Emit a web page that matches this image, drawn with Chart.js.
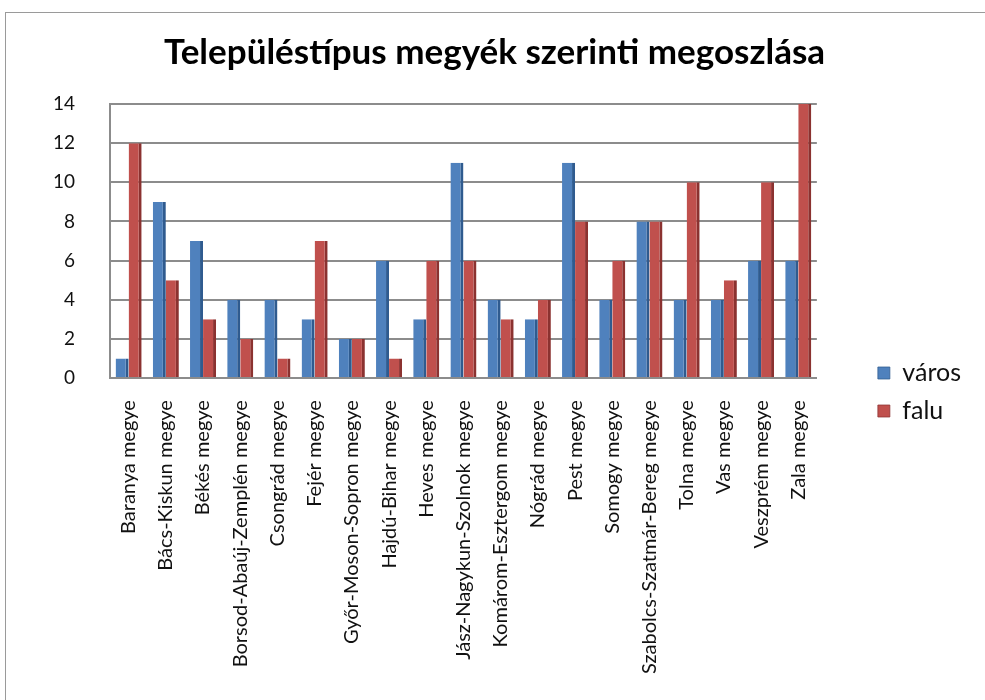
<!DOCTYPE html>
<html lang="hu">
<head>
    <meta charset="UTF-8">
    <title>Településtípus megyék szerinti megoszlása</title>
    <script src="https://cdn.jsdelivr.net/npm/chart.js"></script>
    <style>
        body {
            margin: 0;
            background: #fff;
        }
        .frame {
            position: absolute;
            left: 5px;
            top: 12px;
            width: 1000px;
            height: 720px;
            border-left: 1px solid #9a9a9a;
            border-top: 1px solid #9a9a9a;
        }
        .chart-box {
            position: absolute;
            left: 0;
            top: 0;
            width: 985px;
            height: 700px;
        }
    </style>
</head>
<body>
    <div class="frame"></div>
    <div class="chart-box">
        <canvas id="barChart" width="985" height="700"></canvas>
    </div>

    <script>
        // data
        var megyek = ['Baranya megye', 'Bács-Kiskun megye', 'Békés megye', 'Borsod-Abaúj-Zemplén megye',
            'Csongrád megye', 'Fejér megye', 'Győr-Moson-Sopron megye', 'Hajdú-Bihar megye', 'Heves megye',
            'Jász-Nagykun-Szolnok megye', 'Komárom-Esztergom megye', 'Nógrád megye', 'Pest megye',
            'Somogy megye', 'Szabolcs-Szatmár-Bereg megye', 'Tolna megye', 'Vas megye', 'Veszprém megye', 'Zala megye'];
        var varos = [1, 9, 7, 4, 4, 3, 2, 6, 3, 11, 4, 3, 11, 4, 8, 4, 4, 6, 6];
        var falu = [12, 5, 3, 2, 1, 7, 2, 1, 6, 6, 3, 4, 8, 6, 8, 10, 5, 10, 14];
        var yTicks = [0, 2, 4, 6, 8, 10, 12, 14];

        var gridColor = '#8c8c8c';

        // push the legend away from the plot and a bit lower
        var legendGap = 48;
        var legendDrop = 34;
        var legendShift = {
            id: 'legendShift',
            beforeInit: function (chart) {
                var fit = chart.legend.fit;
                chart.legend.fit = function () {
                    fit.bind(chart.legend)();
                    this.width += legendGap;
                };
            },
            afterLayout: function (chart) {
                chart.legend.left += legendGap;
                chart.legend.top += legendDrop;
                chart.legend.bottom += legendDrop;
            }
        };

        var barChart = new Chart(document.getElementById('barChart'), {
            type: 'bar',
            data: {
                labels: megyek,
                datasets: [{
                    label: 'város',
                    data: varos,
                    backgroundColor: '#4f81bd',
                    borderColor: '#2f5b8f',
                    borderWidth: { top: 0, left: 0, bottom: 0, right: 3 },
                    borderSkipped: false
                }, {
                    label: 'falu',
                    data: falu,
                    backgroundColor: '#c0504d',
                    borderColor: '#8b3230',
                    borderWidth: { top: 0, left: 0, bottom: 0, right: 3 },
                    borderSkipped: false
                }]
            },
            options: {
                responsive: false,
                animation: false,
                categoryPercentage: 0.7,
                barPercentage: 1,
                layout: {
                    padding: { top: 20, left: 18, right: 14, bottom: 4 }
                },
                plugins: {
                    title: {
                        display: true,
                        text: 'Településtípus megyék szerinti megoszlása',
                        color: '#000',
                        font: { family: 'Lato', size: 35, weight: 'bold' },
                        padding: { top: 12, bottom: 30 }
                    },
                    legend: {
                        position: 'right',
                        labels: {
                            boxWidth: 12,
                            boxHeight: 12,
                            padding: 13,
                            color: '#111',
                            font: { family: 'Lato', size: 25 }
                        }
                    },
                    tooltip: { enabled: false }
                },
                scales: {
                    x: {
                        grid: { display: false, drawTicks: false },
                        border: { display: true, color: gridColor, width: 2 },
                        ticks: {
                            autoSkip: false,
                            minRotation: 90,
                            maxRotation: 90,
                            padding: 22,
                            color: '#111',
                            font: { family: 'Lato', size: 20 }
                        }
                    },
                    y: {
                        min: 0,
                        max: 14,
                        afterBuildTicks: function (axis) {
                            axis.ticks = yTicks.map(function (v) { return { value: v }; });
                        },
                        grid: { color: gridColor, lineWidth: 2, drawTicks: false },
                        border: { display: true, color: gridColor, width: 2 },
                        ticks: {
                            padding: 35,
                            color: '#111',
                            font: { family: 'Lato', size: 19 }
                        }
                    }
                }
            },
            plugins: [legendShift]
        });
    </script>
</body>
</html>
